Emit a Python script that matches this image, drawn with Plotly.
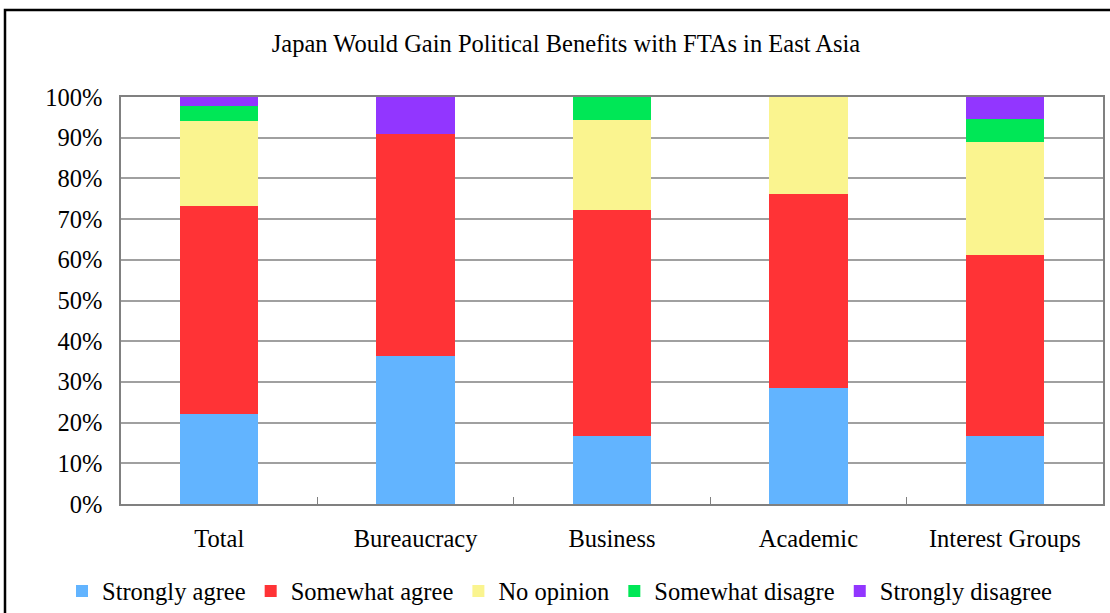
import plotly.graph_objects as go

categories = ["Total", "Bureaucracy", "Business", "Academic", "Interest Groups"]
strongly_agree = [22.0, 36.4, 16.7, 28.6, 16.7]
somewhat_agree = [51.2, 54.5, 55.5, 47.6, 44.4]
no_opinion = [21.0, 0.0, 22.2, 23.8, 27.8]
somewhat_disagree = [3.6, 0.0, 5.6, 0.0, 5.6]
strongly_disagree = [2.2, 9.1, 0.0, 0.0, 5.5]

series = [
    ("Strongly agree", strongly_agree, "#62B4FF"),
    ("Somewhat agree", somewhat_agree, "#FF3336"),
    ("No opinion", no_opinion, "#FAF48F"),
    ("Somewhat disagre", somewhat_disagree, "#00E756"),
    ("Strongly disagree", strongly_disagree, "#9236FF"),
]

font_family = "Liberation Serif, Times New Roman, serif"

fig = go.Figure()
for name, vals, color in series:
    fig.add_trace(go.Bar(
        x=categories, y=vals, name=name,
        marker=dict(color=color, line=dict(width=0)),
    ))

W, H = 1110, 613
L, R, T, B = 121, 7, 97, 109
pw, ph = W - L - R, H - T - B

def px_x(p):
    return (p - L) / pw

def px_y(p):
    return (H - B - p) / ph

fig.update_layout(
    width=W, height=H,
    barmode="stack", bargap=0.6,
    margin=dict(l=L, r=R, t=T, b=B, autoexpand=False),
    paper_bgcolor="white", plot_bgcolor="white",
    font=dict(family=font_family, size=24, color="black"),
    title=dict(
        text="Japan Would Gain Political Benefits with FTAs in East Asia",
        x=566 / W, xref="container", xanchor="center",
        y=1 - 43 / H, yref="container", yanchor="middle",
        font=dict(family=font_family, size=24.5, color="black"),
    ),
    legend=dict(
        orientation="h", x=px_x(62), xref="paper", xanchor="left",
        y=px_y(591), yref="paper", yanchor="middle",
        font=dict(family=font_family, size=24.5, color="black"),
        itemwidth=30, traceorder="normal",
    ),
    showlegend=True,
    shapes=[dict(
        type="rect", xref="paper", yref="paper",
        x0=px_x(5), x1=px_x(1120), y0=px_y(625), y1=px_y(10),
        line=dict(color="black", width=2.5), fillcolor="rgba(0,0,0,0)",
        layer="below",
    )],
)

fig.update_xaxes(
    type="category",
    showline=True, mirror=True, linecolor="#808080", linewidth=1.5,
    ticks="inside", tickson="boundaries", ticklen=7, tickcolor="#808080",
    showgrid=False, ticklabelstandoff=12,
    tickfont=dict(family=font_family, size=24.5, color="black"),
)
fig.update_yaxes(
    range=[0, 100], dtick=10, ticksuffix="%",
    showline=True, mirror=True, linecolor="#808080", linewidth=1.5,
    showgrid=True, gridcolor="#A0A0A0", gridwidth=1.5,
    ticks="", ticklabelstandoff=12, zeroline=False,
    tickfont=dict(family=font_family, size=24.5, color="black"),
)

fig.write_html("out.html")
